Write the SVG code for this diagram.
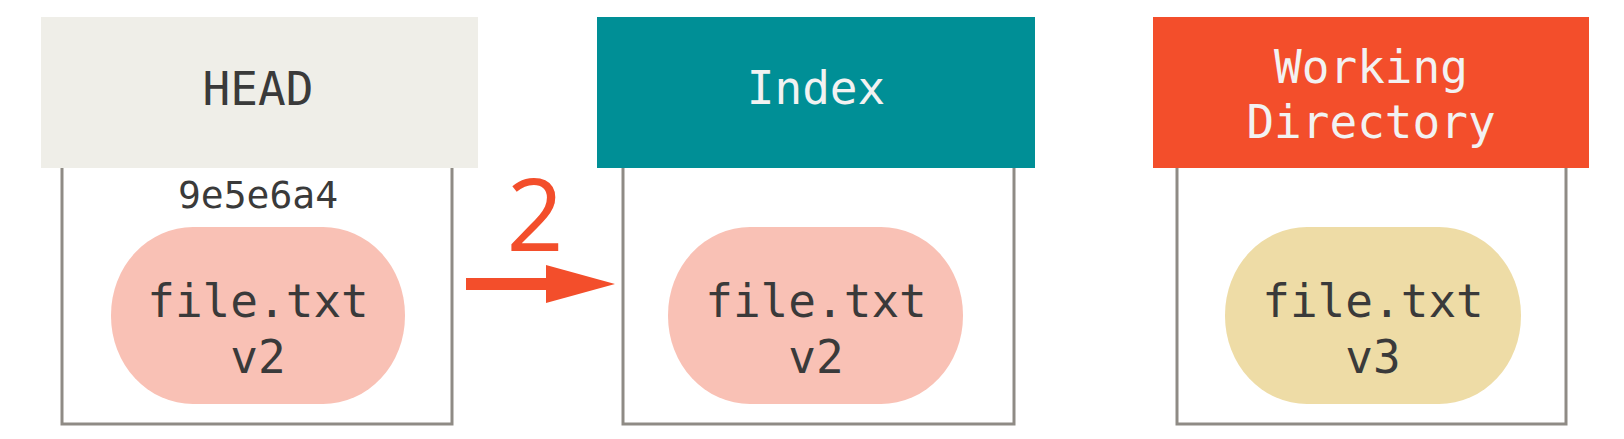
<svg xmlns="http://www.w3.org/2000/svg" width="1624" height="439" viewBox="0 0 1624 439">
<style>
.box{fill:#ffffff;stroke:#8f8b85;stroke-width:3}
.hdr-text{font-family:"DejaVu Sans Mono",monospace;font-size:46px;text-anchor:middle}
.pill-text{font-family:"DejaVu Sans Mono",monospace;font-size:46px;fill:#3a3a3a;text-anchor:middle}
.hash{font-family:"DejaVu Sans Mono",monospace;font-size:38px;fill:#3a3a3a;text-anchor:middle}
.pink{fill:#f9c1b5}
.yellow{fill:#eedca6}
.arrow{stroke:#f34e2b;stroke-width:12;fill:none}
.step{font-family:"Open Sans",sans-serif;font-size:100px;fill:#f34e2b;text-anchor:middle}
</style>
<defs>
<marker id="head" markerUnits="userSpaceOnUse" markerWidth="70" markerHeight="40" refX="0" refY="20" orient="auto">
<polygon points="0,1 69,20 0,39" fill="#f34e2b"/>
</marker>
</defs>
<g id="head-node">
<rect class="box" x="62" y="160" width="390" height="264"/>
<rect x="41" y="17" width="437" height="151" fill="#efeee8"/>
<text class="hdr-text" x="258" y="105" fill="#3a3a3a">HEAD</text>
<text class="hash" x="258" y="208">9e5e6a4</text>
<rect class="pink" x="111" y="227" width="294" height="177" rx="82" ry="88"/>
<text class="pill-text" x="258" y="317">file.txt</text>
<text class="pill-text" x="258" y="373">v2</text>
</g>
<g id="index-node">
<rect class="box" x="623" y="160" width="391" height="264"/>
<rect x="597" y="17" width="438" height="151" fill="#008f96"/>
<text class="hdr-text" x="816" y="104" fill="#f2f2f2">Index</text>
<rect class="pink" x="668" y="227" width="295" height="177" rx="82" ry="88"/>
<text class="pill-text" x="816" y="317">file.txt</text>
<text class="pill-text" x="816" y="373">v2</text>
</g>
<g id="workdir-node">
<rect class="box" x="1177" y="160" width="389" height="264"/>
<rect x="1153" y="17" width="436" height="151" fill="#f34e2b"/>
<text class="hdr-text" x="1371" y="83" fill="#f2f2f2">Working</text>
<text class="hdr-text" x="1371" y="138" fill="#f2f2f2">Directory</text>
<rect class="yellow" x="1225" y="227" width="296" height="177" rx="82" ry="88"/>
<text class="pill-text" x="1373" y="317">file.txt</text>
<text class="pill-text" x="1373" y="373">v3</text>
</g>
<g id="connectors">
<line class="arrow" x1="466" y1="284" x2="546" y2="284" marker-end="url(#head)"/>
<text class="step" x="535" y="251">2</text>
</g>
</svg>
